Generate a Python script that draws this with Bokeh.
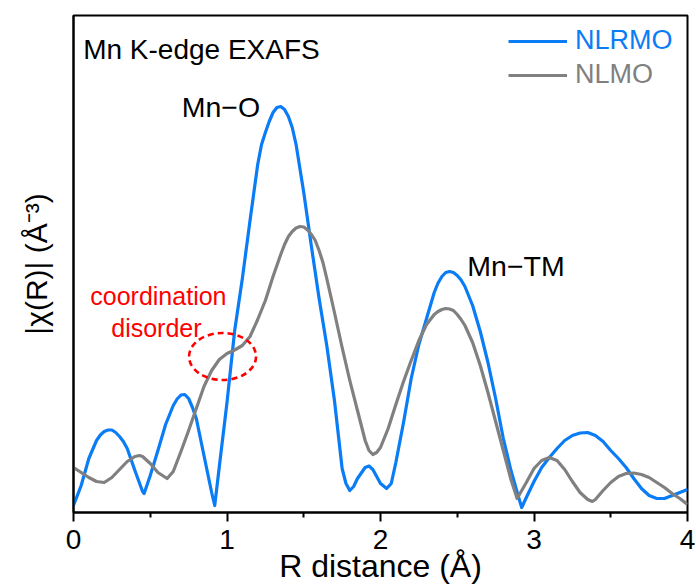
from bokeh.plotting import figure
from bokeh.models import Range1d, FixedTicker, Legend, LegendItem, Label
from bokeh.embed import file_html
from bokeh.resources import INLINE

# ---------------- data ----------------
R_nlrmo = [0.00, 0.05, 0.10, 0.15, 0.175, 0.20, 0.225, 0.25, 0.275, 0.30, 0.325, 0.35,
           0.40, 0.45, 0.46, 0.50, 0.55, 0.60, 0.65, 0.675, 0.70, 0.725, 0.75, 0.775,
           0.80, 0.85, 0.90, 0.92, 0.95, 1.00, 1.05, 1.10, 1.15, 1.20, 1.225, 1.25,
           1.275, 1.30, 1.325, 1.35, 1.375, 1.40, 1.425, 1.45, 1.50, 1.55, 1.60, 1.65,
           1.70, 1.75, 1.775, 1.80, 1.825, 1.85, 1.90, 1.925, 1.95, 2.00, 2.04, 2.07,
           2.10, 2.15, 2.20, 2.25, 2.30, 2.35, 2.375, 2.40, 2.425, 2.45, 2.475, 2.50,
           2.525, 2.55, 2.60, 2.65, 2.70, 2.75, 2.80, 2.85, 2.90, 2.92, 2.95, 3.00,
           3.05, 3.10, 3.15, 3.20, 3.25, 3.30, 3.35, 3.40, 3.45, 3.50, 3.55, 3.60,
           3.65, 3.70, 3.75, 3.80, 3.85, 3.90, 3.95, 4.00]
chi_nlrmo = [0.07, 0.27, 0.54, 0.72, 0.775, 0.81, 0.825, 0.825, 0.80, 0.76, 0.71, 0.64,
             0.42, 0.21, 0.19, 0.37, 0.62, 0.88, 1.07, 1.135, 1.175, 1.18, 1.14, 1.05,
             0.94, 0.57, 0.20, 0.07, 0.46, 1.10, 1.82, 2.34, 2.92, 3.48, 3.68, 3.80,
             3.91, 4.00, 4.05, 4.06, 4.03, 3.96, 3.85, 3.68, 3.20, 2.66, 2.14, 1.67,
             1.12, 0.44, 0.29, 0.22, 0.26, 0.34, 0.45, 0.465, 0.43, 0.29, 0.24, 0.29,
             0.50, 0.90, 1.34, 1.68, 1.94, 2.20, 2.295, 2.36, 2.40, 2.41, 2.40, 2.37,
             2.325, 2.26, 2.07, 1.81, 1.50, 1.14, 0.74, 0.42, 0.15, 0.05, 0.15, 0.31,
             0.45, 0.55, 0.64, 0.72, 0.77, 0.795, 0.80, 0.77, 0.71, 0.62, 0.54, 0.45,
             0.34, 0.24, 0.17, 0.14, 0.14, 0.17, 0.20, 0.23]

R_nlmo = [0.00, 0.05, 0.10, 0.15, 0.20, 0.25, 0.30, 0.35, 0.40, 0.43, 0.45, 0.50,
          0.55, 0.61, 0.65, 0.70, 0.75, 0.80, 0.85, 0.90, 0.95, 1.00, 1.05, 1.10,
          1.15, 1.20, 1.25, 1.30, 1.35, 1.375, 1.40, 1.425, 1.45, 1.475, 1.50, 1.525,
          1.55, 1.575, 1.60, 1.625, 1.65, 1.675, 1.70, 1.75, 1.80, 1.85, 1.90, 1.925,
          1.95, 1.975, 2.00, 2.05, 2.10, 2.15, 2.20, 2.25, 2.30, 2.35, 2.375, 2.40,
          2.425, 2.45, 2.475, 2.50, 2.525, 2.55, 2.60, 2.65, 2.70, 2.75, 2.80, 2.85,
          2.89, 2.95, 3.00, 3.05, 3.10, 3.15, 3.20, 3.25, 3.30, 3.35, 3.38, 3.40,
          3.45, 3.50, 3.55, 3.60, 3.65, 3.70, 3.75, 3.80, 3.85, 3.90, 3.95, 4.00]
chi_nlmo = [0.45, 0.40, 0.35, 0.31, 0.30, 0.35, 0.43, 0.51, 0.56, 0.57, 0.56, 0.49,
            0.40, 0.34, 0.41, 0.61, 0.82, 1.04, 1.26, 1.42, 1.53, 1.59, 1.625, 1.67,
            1.76, 1.93, 2.12, 2.36, 2.58, 2.68, 2.76, 2.81, 2.845, 2.86, 2.855, 2.825,
            2.78, 2.72, 2.62, 2.50, 2.34, 2.17, 2.00, 1.65, 1.32, 1.02, 0.72, 0.62,
            0.58, 0.60, 0.65, 0.84, 1.08, 1.31, 1.52, 1.72, 1.88, 1.98, 2.01, 2.03,
            2.04, 2.035, 2.02, 1.98, 1.93, 1.87, 1.70, 1.47, 1.20, 0.91, 0.62, 0.33,
            0.14, 0.30, 0.44, 0.52, 0.55, 0.52, 0.43, 0.31, 0.20, 0.13, 0.11, 0.13,
            0.22, 0.30, 0.36, 0.39, 0.395, 0.38, 0.35, 0.30, 0.25, 0.19, 0.14, 0.08]

x_ticks = [0, 1, 2, 3, 4]
x_minor = [0.5, 1.5, 2.5, 3.5]
series_names = ["NLRMO", "NLMO"]

# ---------------- style ----------------
BLUE = "#0A7CF6"
GRAY = "#808080"
RED = "#FF0000"
FONT = "Liberation Sans"

p = figure(width=696, height=588, output_backend="svg", toolbar_location=None,
           x_range=Range1d(0, 4), y_range=Range1d(0, 4.97),
           min_border_left=73, min_border_right=9, min_border_top=15, min_border_bottom=76)

p.xgrid.visible = False
p.ygrid.visible = False
p.outline_line_color = "black"
p.outline_line_width = 2
p.background_fill_color = "white"
p.border_fill_color = "white"

r_b = p.line(R_nlrmo, chi_nlrmo, line_color=BLUE, line_width=3.2, line_join="round")
r_g = p.line(R_nlmo, chi_nlmo, line_color=GRAY, line_width=3.2, line_join="round")

# x axis
xa = p.xaxis[0]
xa.ticker = FixedTicker(ticks=x_ticks, minor_ticks=x_minor)
xa.axis_line_width = 2
xa.major_tick_line_width = 2
xa.minor_tick_line_width = 2
xa.major_tick_out = 9
xa.major_tick_in = 0
xa.minor_tick_out = 5
xa.minor_tick_in = 0
xa.major_label_text_font = FONT
xa.major_label_text_font_size = "28px"
xa.major_label_text_color = "black"
xa.major_label_standoff = 8
xa.axis_label = "R distance (Å)"
xa.axis_label_text_font = FONT
xa.axis_label_text_font_size = "32px"
xa.axis_label_text_font_style = "normal"
xa.axis_label_text_color = "black"
xa.axis_label_standoff = -4

# y axis
ya = p.yaxis[0]
ya.ticker = FixedTicker(ticks=[])
ya.axis_line_width = 2
ya.major_tick_line_color = None
ya.minor_tick_line_color = None
ya.axis_label = "|χ(R)| (Å⁻³)"
ya.axis_label_text_font = FONT
ya.axis_label_text_font_size = "30px"
ya.axis_label_text_font_style = "normal"
ya.axis_label_text_color = "black"
ya.axis_label_standoff = 21

# legends: one per series so each label has its own colour
for name, rend, col, loc in [(series_names[0], r_b, BLUE, (435, 456)),
                             (series_names[1], r_g, GRAY, (435, 422))]:
    lg = Legend(items=[LegendItem(label=name, renderers=[rend])], location=loc,
                glyph_width=59, glyph_height=30, label_standoff=8,
                label_text_font=FONT, label_text_font_size="27px",
                label_text_color=col, padding=0, margin=0, spacing=0,
                border_line_alpha=0, background_fill_alpha=0)
    p.add_layout(lg)

# annotations
def lab(x, y, text, size, color="black", align="left"):
    p.add_layout(Label(x=x, y=y, text=text, text_font=FONT, text_font_size=size,
                       text_color=color, text_align=align, text_baseline="alphabetic"))

lab(0.063, 4.63, "Mn K-edge EXAFS", "28px")
lab(0.96, 4.06, "Mn\u2212O", "28.5px", align="center")
lab(2.883, 2.47, "Mn\u2212TM", "28.5px", align="center")
lab(0.553, 2.17, "coordination", "25px", color=RED, align="center")
lab(0.540, 1.85, "disorder", "25px", color=RED, align="center")

p.ellipse(x=[0.971], y=[1.56], width=67, height=47, width_units="screen",
          height_units="screen", fill_alpha=0, line_color=RED, line_width=2.6,
          line_dash="6 4")

open("out.html", "w").write(file_html(p, INLINE))
